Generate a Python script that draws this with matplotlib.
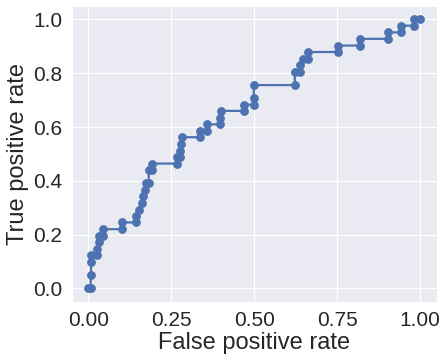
import matplotlib
matplotlib.use("Agg")
import matplotlib.pyplot as plt
import seaborn as sns

# ROC curve points
fpr = [0.0, 0.007, 0.007, 0.009, 0.009, 0.027, 0.027, 0.031, 0.033, 0.043, 0.043,
       0.1, 0.1, 0.143, 0.145, 0.154, 0.161, 0.166, 0.171, 0.173, 0.182, 0.182,
       0.192, 0.192, 0.267, 0.267, 0.276, 0.276, 0.28, 0.281, 0.336, 0.336,
       0.358, 0.358, 0.398, 0.398, 0.399, 0.47, 0.47, 0.498, 0.498, 0.499,
       0.622, 0.622, 0.639, 0.639, 0.646, 0.661, 0.661, 0.751, 0.751, 0.819,
       0.819, 0.902, 0.902, 0.941, 0.941, 0.98, 0.98, 1.0]
tpr = [0.0, 0.0, 0.049, 0.098, 0.124, 0.124, 0.147, 0.171, 0.196, 0.196, 0.22,
       0.22, 0.245, 0.245, 0.269, 0.292, 0.317, 0.342, 0.366, 0.39, 0.39, 0.439,
       0.439, 0.464, 0.464, 0.488, 0.488, 0.512, 0.537, 0.562, 0.562, 0.585,
       0.585, 0.61, 0.61, 0.635, 0.66, 0.66, 0.683, 0.683, 0.708, 0.756,
       0.756, 0.804, 0.804, 0.829, 0.854, 0.854, 0.879, 0.879, 0.903, 0.903,
       0.928, 0.928, 0.952, 0.952, 0.977, 0.977, 1.0, 1.0]

sns.set_style("darkgrid")
plt.rcParams['font.family'] = ['Liberation Sans', 'DejaVu Sans']

fig = plt.figure(figsize=(4.43, 3.55), dpi=100)
ax = fig.add_axes([0.162, 0.150, 0.824, 0.833])
ax.plot(fpr, tpr, marker='o', color='#4C72B0', markersize=5.3, linewidth=1.6)
ax.set_xlim(-0.05, 1.05)
ax.set_ylim(-0.05, 1.05)
ax.set_xticks([0, 0.25, 0.5, 0.75, 1.0])
ax.set_yticks([0, 0.2, 0.4, 0.6, 0.8, 1.0])
ax.tick_params(labelsize=15, colors='#262626')
ax.set_xlabel('False positive rate', fontsize=17, color='#262626', labelpad=1)
ax.set_ylabel('True positive rate', fontsize=17, color='#262626', labelpad=3)
fig.savefig('out.png', dpi=100)
